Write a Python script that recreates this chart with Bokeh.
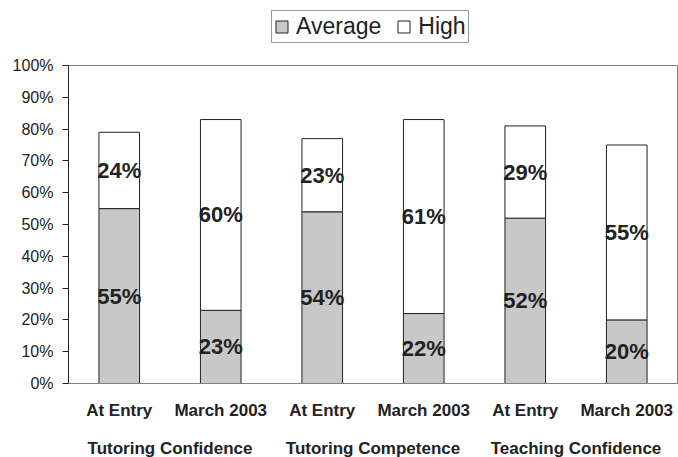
from bokeh.plotting import figure
from bokeh.layouts import column
from bokeh.models import (Range1d, FixedTicker, CustomJSTickFormatter,
                          Legend, LegendItem, ColumnDataSource)
from bokeh.core.properties import value
from bokeh.embed import file_html
from bokeh.resources import INLINE

# ---- data ----
categories = ["At Entry", "March 2003", "At Entry", "March 2003", "At Entry", "March 2003"]
groups = ["Tutoring Confidence", "Tutoring Competence", "Teaching Confidence"]
series = ["Average", "High"]
average = [55, 23, 54, 22, 52, 20]
high = [24, 60, 23, 61, 29, 55]
y_ticks = [0, 10, 20, 30, 40, 50, 60, 70, 80, 90, 100]

FONT = "Liberation Sans"
DARK = "#222222"
AVG_FILL = "#c8c8c8"

xs = [i + 0.5 for i in range(len(categories))]
totals = [a + h for a, h in zip(average, high)]
group_x = [2 * g + 1 for g in range(len(groups))]

src = ColumnDataSource(dict(
    x=xs, avg=average, high=high, tot=totals,
    avg_mid=[a / 2 for a in average],
    high_mid=[a + h / 2 for a, h in zip(average, high)],
    avg_lbl=[f"{a}%" for a in average],
    high_lbl=[f"{h}%" for h in high],
))

x_range = Range1d(0, len(categories))


def bare(fig):
    fig.outline_line_color = None
    fig.grid.visible = False
    fig.background_fill_color = "white"
    fig.border_fill_color = "white"


# ---- legend strip: legend-only proxies (no drawable extent) ----
p0 = figure(width=678, height=55, output_backend="svg", toolbar_location=None,
            x_range=x_range, y_range=Range1d(0, 1),
            x_axis_type=None, y_axis_type=None,
            min_border_left=68, min_border_right=1, min_border_top=0,
            min_border_bottom=0)
bare(p0)
proxy = ColumnDataSource(dict(x=xs, top=[float("nan")] * len(xs)))
l_avg = p0.vbar(x="x", top="top", width=0.4, source=proxy,
                fill_color=AVG_FILL, line_color=DARK)
l_high = p0.vbar(x="x", top="top", width=0.4, source=proxy,
                 fill_color="white", line_color=DARK)
legend = Legend(items=[LegendItem(label=series[0], renderers=[l_avg]),
                       LegendItem(label=series[1], renderers=[l_high])],
                location=(203, 12), orientation="horizontal",
                label_text_font=FONT, label_text_font_size="23px",
                label_text_color=DARK, label_height=20,
                glyph_width=15, glyph_height=15, label_standoff=7, spacing=15,
                padding=2, margin=0, border_line_color="#333333",
                border_line_width=1, background_fill_color="white",
                background_fill_alpha=1.0)
p0.add_layout(legend, "center")

# ---- main chart ----
p = figure(width=678, height=384, output_backend="svg", toolbar_location=None,
           x_range=x_range, y_range=Range1d(0, 100),
           min_border_left=68, min_border_right=1, min_border_top=10,
           min_border_bottom=56)
p.background_fill_color = "white"
p.border_fill_color = "white"
p.outline_line_color = "#808080"
p.outline_line_width = 1
p.grid.visible = False

p.vbar(x="x", bottom=0, top="avg", width=0.4, source=src,
       fill_color=AVG_FILL, line_color=DARK, line_width=1)
p.vbar(x="x", bottom="avg", top="tot", width=0.4, source=src,
       fill_color="white", line_color=DARK, line_width=1)

for ycol, tcol in (("avg_mid", "avg_lbl"), ("high_mid", "high_lbl")):
    p.text(x="x", y=ycol, text=tcol, source=src, text_align="center",
           text_baseline="middle", text_font=value(FONT),
           text_font_size="22px", text_font_style="bold", text_color=DARK)

ya = p.yaxis[0]
ya.ticker = FixedTicker(ticks=y_ticks)
ya.major_label_overrides = {t: f"{t}%" for t in y_ticks}
ya.major_tick_out = 6
ya.major_tick_in = 0
ya.minor_tick_line_color = None
ya.axis_line_color = DARK
ya.major_tick_line_color = DARK
ya.major_label_standoff = 9
ya.major_label_text_font = FONT
ya.major_label_text_font_size = "16px"
ya.major_label_text_color = DARK

xa = p.xaxis[0]
xa.ticker = FixedTicker(ticks=xs)
xa.formatter = CustomJSTickFormatter(args=dict(labels=categories),
                                     code="return labels[Math.floor(tick)] || '';")
xa.major_tick_line_color = None
xa.minor_tick_line_color = None
xa.major_tick_out = 0
xa.major_tick_in = 0
xa.axis_line_color = "#808080"
xa.major_label_standoff = 17
xa.major_label_text_font = FONT
xa.major_label_text_font_size = "17px"
xa.major_label_text_font_style = "bold"
xa.major_label_text_color = DARK

# ---- group labels row ----
p2 = figure(width=678, height=18, output_backend="svg", toolbar_location=None,
            x_range=x_range, y_range=Range1d(0, 1),
            x_axis_type=None, y_axis_type=None,
            min_border_left=68, min_border_right=1, min_border_top=0,
            min_border_bottom=0)
bare(p2)
p2.text(x=group_x, y=[0.5] * len(groups), text=groups, text_align="center",
        text_baseline="middle", text_font=value(FONT), text_font_size="17px",
        text_font_style="bold", text_color=DARK)

layout = column(p0, p, p2, spacing=0)
open("out.html", "w").write(file_html(layout, INLINE))
